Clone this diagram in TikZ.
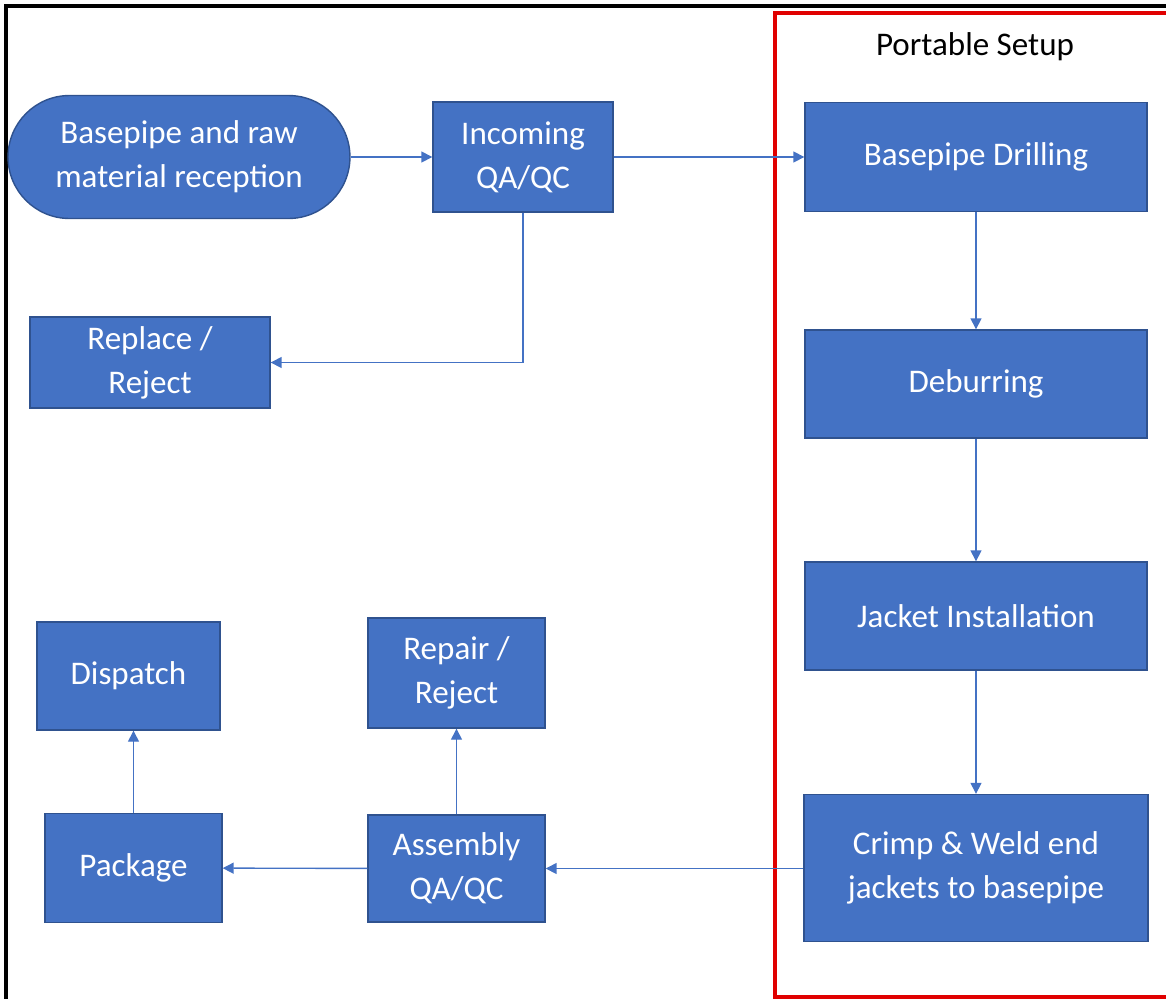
\documentclass[tikz,border=0pt]{standalone}
\usepackage{fontspec}
\setmainfont{Carlito}
\usetikzlibrary{arrows.meta}

\definecolor{boxblue}{HTML}{4472C4}
\definecolor{boxedge}{HTML}{2F528F}
\definecolor{framered}{HTML}{E00000}

\begin{document}
\begin{tikzpicture}[
        x=0.02cm, y=-0.02cm,
        >={Triangle[length=2.2mm,width=2.2mm]},
        proc/.style={draw=boxedge, line width=0.8pt, fill=boxblue,
                     text=white, align=center, inner sep=0pt,
                     font=\fontsize{18.8}{25}\selectfont},
        flow/.style={draw=boxblue, line width=0.8pt, ->},
    ]
    \useasboundingbox (0,0) rectangle (1166,998);
    \clip (0,0) rectangle (1166,998);

    % frames
    \draw[line width=2.3pt] (6,6) rectangle (1190,1020);
    \draw[framered, line width=2pt] (775,13) rectangle (1190,997);
    \node (title) at (975,47) {\fontsize{18.8}{25}\selectfont Portable Setup};

    % left part
    \node[proc, minimum width=6.84cm, minimum height=2.46cm,
          rounded corners=1.23cm] (start) at (179,157)
          {Basepipe and raw\\material reception};
    \node[proc, minimum width=3.6cm, minimum height=2.2cm]
          (incoming) at (523,157) {Incoming\\QA/QC};
    \node[proc, minimum width=4.8cm, minimum height=1.82cm]
          (replace) at (150,362.5) {Replace /\\Reject};

    % portable setup
    \node[proc, minimum width=6.84cm, minimum height=2.18cm]
          (drilling) at (976,157) {Basepipe Drilling};
    \node[proc, minimum width=6.84cm, minimum height=2.16cm]
          (deburring) at (976,384) {Deburring};
    \node[proc, minimum width=6.84cm, minimum height=2.16cm]
          (jacket) at (976,616) {Jacket Installation};
    \node[proc, minimum width=6.88cm, minimum height=2.94cm]
          (crimp) at (976,868) {Crimp \& Weld end\\jackets to basepipe};

    % bottom row
    \node[proc, minimum width=3.54cm, minimum height=2.14cm]
          (assembly) at (456.5,868.5) {Assembly\\QA/QC};
    \node[proc, minimum width=3.54cm, minimum height=2.2cm]
          (repair) at (456.5,673) {Repair /\\Reject};
    \node[proc, minimum width=3.54cm, minimum height=2.18cm]
          (package) at (133.5,868) {Package};
    \node[proc, minimum width=3.66cm, minimum height=2.16cm]
          (dispatch) at (128.5,676) {Dispatch};

    % connectors
    \draw[flow] (start) -- (incoming);
    \draw[flow] (incoming) -- (drilling);
    \draw[flow] (incoming.south) |- (replace.east);
    \draw[flow] (drilling) -- (deburring);
    \draw[flow] (deburring) -- (jacket);
    \draw[flow] (jacket) -- (crimp);
    \draw[flow] (crimp.west |- assembly) -- (assembly);
    \draw[flow] (assembly) -- (package);
    \draw[flow] (assembly) -- (repair);
    \draw[flow] (package.north) -- (package.north |- dispatch.south);

    \end{tikzpicture}
\end{document}
